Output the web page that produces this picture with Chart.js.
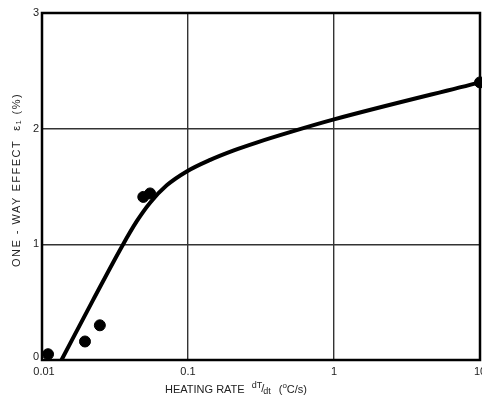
<!DOCTYPE html>
<html>
<head>
<meta charset="utf-8">
<script src="https://cdn.jsdelivr.net/npm/chart.js@4/dist/chart.umd.min.js"></script>
<style>
html,body{margin:0;padding:0;background:#fff;}
#wrap{width:482px;height:405px;}
</style>
</head>
<body>
<div id="wrap"><canvas id="c" width="482" height="405"></canvas></div>
<script>
// Data
const xTicks = [0.01, 0.1, 1, 10];
const xTickLabels = ['0.01', '0.1', '1', '10'];
const yTicks = [0, 1, 2, 3];
const yTickLabels = ['0', '1', '2', '3'];

const pointRates = [0.0110, 0.0197, 0.0249, 0.0494, 0.0550, 10];
const pointEffects = [0.05, 0.16, 0.30, 1.41, 1.44, 2.40];

const curveRates = [0.0136, 0.0224, 0.0352, 0.0446, 0.0550, 0.0715, 0.098, 0.142, 0.204, 0.295, 0.50, 1, 10];
const curveEffects = [0, 0.52, 0.98, 1.20, 1.36, 1.51, 1.63, 1.73, 1.81, 1.88, 1.97, 2.08, 2.40];

const xTitle = 'HEATING RATE';
const yTitle = 'ONE - WAY EFFECT  \u03b5\u2081 (%)';

const toXY = (xs, ys) => xs.map((x, i) => ({x: x, y: ys[i]}));

const decor = {
  id: 'decor',
  afterDraw(chart) {
    const ctx = chart.ctx;
    const a = chart.chartArea;
    const xs = chart.scales.x, ys = chart.scales.y;
    ctx.save();
    // frame
    ctx.strokeStyle = '#000';
    ctx.lineWidth = 2.5;
    ctx.strokeRect(a.left, a.top, a.right - a.left, a.bottom - a.top);
    // tick labels
    ctx.fillStyle = '#222';
    ctx.font = '11px "Liberation Sans", Arial, sans-serif';
    ctx.textAlign = 'center';
    ctx.textBaseline = 'top';
    xTicks.forEach((v, i) => {
      ctx.fillText(xTickLabels[i], xs.getPixelForValue(v) + (i === 0 ? 2 : 0), a.bottom + 6);
    });
    ctx.textAlign = 'right';
    ctx.textBaseline = 'middle';
    yTicks.forEach((v, i) => {
      ctx.fillText(yTickLabels[i], a.left - 3, ys.getPixelForValue(v) - (i === 0 ? 3 : 0));
    });
    // x title
    ctx.textAlign = 'left';
    ctx.textBaseline = 'alphabetic';
    ctx.font = '11px "Liberation Sans", Arial, sans-serif';
    let x = 165, y = 393;
    ctx.fillText(xTitle, x, y);
    x += ctx.measureText(xTitle).width + 7;
    ctx.font = '9px "Liberation Sans", Arial, sans-serif';
    ctx.fillText('dT', x, y - 5);
    x += ctx.measureText('dT').width - 1;
    ctx.font = '11px "Liberation Sans", Arial, sans-serif';
    ctx.fillText('/', x, y - 1);
    x += ctx.measureText('/').width - 1;
    ctx.font = '9px "Liberation Sans", Arial, sans-serif';
    ctx.fillText('dt', x, y + 1);
    x += ctx.measureText('dt').width + 8;
    ctx.font = '11px "Liberation Sans", Arial, sans-serif';
    ctx.fillText('(', x, y);
    x += ctx.measureText('(').width;
    ctx.font = '8px "Liberation Sans", Arial, sans-serif';
    ctx.fillText('o', x, y - 5);
    x += ctx.measureText('o').width;
    ctx.font = '11px "Liberation Sans", Arial, sans-serif';
    ctx.fillText('C/s)', x, y);
    // y title
    ctx.translate(17, 180);
    ctx.rotate(-Math.PI / 2);
    ctx.textAlign = 'center';
    ctx.textBaseline = 'middle';
    ctx.font = '11px "Liberation Sans", Arial, sans-serif';
    ctx.letterSpacing = '1.5px';
    ctx.fillText(yTitle, 0, 0);
    ctx.restore();
  }
};

new Chart(document.getElementById('c'), {
  data: {
    datasets: [
      {
        type: 'line',
        data: toXY(curveRates, curveEffects),
        borderColor: '#000',
        borderWidth: 4,
        pointRadius: 0,
        cubicInterpolationMode: 'monotone',
        fill: false,
        clip: false
      },
      {
        type: 'scatter',
        data: toXY(pointRates, pointEffects),
        backgroundColor: '#000',
        borderColor: '#000',
        pointRadius: 5.5,
        clip: false
      }
    ]
  },
  options: {
    responsive: false,
    animation: false,
    events: [],
    layout: {autoPadding: false, padding: {left: 42, right: 2, top: 13, bottom: 45}},
    plugins: {legend: {display: false}, tooltip: {enabled: false}},
    scales: {
      x: {
        type: 'logarithmic',
        min: 0.01, max: 10,
        afterBuildTicks(s) { s.ticks = xTicks.map(v => ({value: v})); },
        ticks: {display: false},
        grid: {color: '#333', lineWidth: 1.4, drawTicks: false},
        border: {display: false}
      },
      y: {
        type: 'linear',
        min: 0, max: 3,
        afterBuildTicks(s) { s.ticks = yTicks.map(v => ({value: v})); },
        ticks: {display: false},
        grid: {color: '#333', lineWidth: 1.4, drawTicks: false},
        border: {display: false}
      }
    }
  },
  plugins: [decor]
});
</script>
</body>
</html>
